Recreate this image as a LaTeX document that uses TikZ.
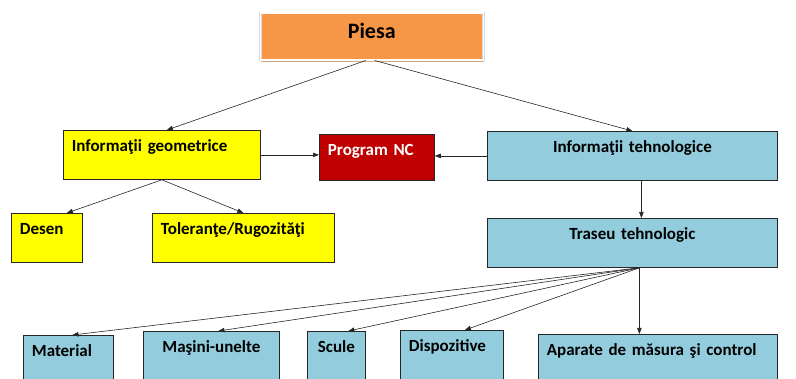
\documentclass[tikz,border=0pt]{standalone}
\usepackage{fontspec}
\setmainfont{Carlito}
\usepackage{tikz}
\usetikzlibrary{arrows.meta, shadows}
\definecolor{ink}{RGB}{38,38,38}
\definecolor{peach}{RGB}{247,150,70}
\definecolor{lemon}{RGB}{255,255,0}
\definecolor{sky}{RGB}{147,205,221}
\definecolor{brick}{RGB}{192,0,0}
\definecolor{tan}{RGB}{205,160,120}

\begin{document}
\begin{tikzpicture}[x=1pt, y=-1pt,
    font=\fontsize{17}{20}\selectfont\bfseries, >={Triangle[length=6pt,width=4.5pt]},
    bx/.style={rectangle,draw=ink,line width=0.8pt,anchor=north west,align=left,
               inner xsep=8.5pt,inner ysep=4pt,text height=17pt,text depth=24pt},
    gbox/.style={bx,fill=lemon},
    tbox/.style={bx,fill=sky},
    link/.style={->,line width=0.6pt,draw=ink}]

  \useasboundingbox (0,0) rectangle (796,379);
  \clip (0,0) rectangle (796,379);

  % top
  \node[bx,fill=peach,draw=black!15,double=white,double distance=1.5pt,line width=0.5pt,
        text width=206pt,align=center,text height=21pt,text depth=18pt,
        font=\fontsize{22}{26}\selectfont\bfseries,
        drop shadow={shadow xshift=1pt,shadow yshift=-2pt,fill=tan,opacity=0.9}]
        (piesa) at (260,13) {Piesa};

  % second row
  \node[gbox,text width=180pt] (geo) at (63,130) {Informaţii geometrice};
  \node[bx,fill=brick,text=white,text width=98pt,text depth=21pt] (nc) at (319,134) {Program NC};
  \node[tbox,text width=273pt,align=center] (tehn) at (487,131) {Informaţii tehnologice};

  % third row
  \node[gbox,text width=54pt] (desen) at (11,213) {Desen};
  \node[gbox,text width=165pt] (toler) at (152,213) {Toleranţe/Rugozităţi};
  \node[tbox,text width=273pt,align=center] (traseu) at (487,218) {Traseu tehnologic};

  % bottom row
  \node[tbox,text width=73pt] (material) at (23,335) {Material};
  \node[tbox,text width=119pt,align=center] (masini) at (143,331) {Maşini-unelte};
  \node[tbox,text width=50pt,inner xsep=4pt,align=center] (scule) at (307,331) {Scule};
  \node[tbox,text width=86pt] (dispoz) at (400,330) {Dispozitive};
  \node[tbox,text width=222pt] (aparate) at (538,334) {Aparate de măsura şi control};

  % links
  \draw[link] ([xshift=-6pt]piesa.south) -- ([xshift=5pt]geo.north);
  \draw[link] ([xshift=3pt]piesa.south) -- (tehn.north);
  \draw[link] (geo.east) -- (nc.west |- geo.east);
  \draw[link] (tehn.west) -- (nc.east |- tehn.west);
  \draw[link] (geo.south) -- ([xshift=20pt]desen.north);
  \draw[link] (geo.south) -- (toler.north);
  \draw[link] ([xshift=9pt]tehn.south) -- ([xshift=9pt]traseu.north);

  \coordinate (fan) at ([xshift=7pt]traseu.south);
  \draw[link] (fan) -- ([xshift=4pt]material.north);
  \draw[link] (fan) -- ([xshift=7pt]masini.north);
  \draw[link] (fan) -- ([xshift=12pt]scule.north);
  \draw[link] (fan) -- ([xshift=13pt]dispoz.north);
  \draw[link] (fan) -- (fan |- aparate.north);
\end{tikzpicture}
\end{document}
